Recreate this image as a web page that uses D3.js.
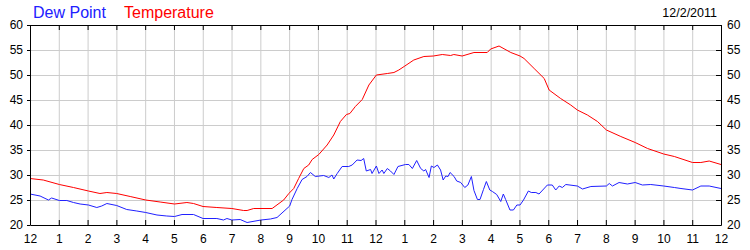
<!DOCTYPE html>
<html>
<head>
<meta charset="utf-8">
<script src="https://cdn.jsdelivr.net/npm/d3@7"></script>
<style>
  body { margin: 0; background: #fff; }
  svg { display: block; font-family: "Liberation Sans", Arial, sans-serif; }
</style>
</head>
<body>
<svg></svg>
<script>
var width = 750;
var height = 250;

// hours after midnight
var tempHours = [0, 0.46, 1.02, 1.51, 2.03, 2.43, 2.67, 3.01, 3.48, 4.02, 4.52, 5.02, 5.45, 5.68,
  6.01, 6.49, 7.01, 7.42, 7.54, 7.77, 8.41, 8.81, 8.99, 9.16, 9.33, 9.51, 9.68, 9.80, 10.03,
  10.32, 10.55, 10.78, 10.99, 11.11, 11.30, 11.54, 11.77, 12.03, 12.41, 12.64, 12.81, 13.02,
  13.33, 13.68, 14.01, 14.32, 14.61, 14.72, 15.01, 15.42, 15.88, 16.00, 16.29, 16.70, 17.02,
  17.16, 17.51, 17.86, 18.03, 18.43, 18.78, 19.01, 19.36, 19.71, 20.02, 20.52, 21.02, 21.45,
  22.01, 22.38, 23.01, 23.30, 23.59, 24.00];
var tempValues = [29.3, 29.0, 28.1, 27.5, 26.8, 26.3, 26.5, 26.3, 25.7, 25.0, 24.6, 24.2, 24.5, 24.3,
  23.7, 23.5, 23.3, 22.9, 22.9, 23.3, 23.3, 25.0, 26.3, 27.3, 29.3, 31.3, 32.0, 33.1, 34.1,
  36.0, 38.0, 40.7, 42.1, 42.3, 43.7, 45.1, 48.0, 50.0, 50.3, 50.5, 51.0, 51.8,
  53.0, 53.7, 53.8, 54.1, 53.9, 54.1, 53.8, 54.5, 54.5, 55.2, 55.8, 54.5, 53.8,
  53.3, 51.3, 49.3, 47.0, 45.3, 44.0, 43.0, 42.0, 40.7, 39.0, 37.7, 36.5, 35.3,
  34.2, 33.7, 32.5, 32.5, 32.8, 32.1];

var dewHours = [0, 0.35, 0.64, 0.75, 1.02, 1.28, 1.51, 1.74, 2.03, 2.32, 2.49, 2.67, 3.01, 3.36,
  3.71, 4.02, 4.41, 4.75, 5.02, 5.28, 5.68, 6.01, 6.49, 6.72, 6.84, 7.01, 7.30, 7.54, 8.02,
  8.35, 8.58, 9.02, 9.10, 9.28, 9.45, 9.62, 9.74, 9.91, 10.20, 10.38, 10.49, 10.55, 10.67,
  10.84, 11.07, 11.19, 11.36, 11.50, 11.59, 11.68, 11.83, 11.88, 12.03, 12.12, 12.23, 12.29,
  12.41, 12.52, 12.64, 12.78, 13.04, 13.16, 13.28, 13.43, 13.57, 13.68, 13.74, 13.86, 13.94,
  14.03, 14.15, 14.26, 14.35, 14.44, 14.52, 14.59, 14.73, 14.82, 14.96, 15.10, 15.21, 15.33,
  15.42, 15.54, 15.63, 15.75, 15.85, 15.97, 16.06, 16.21, 16.35, 16.44, 16.52, 16.67, 16.79,
  16.91, 17.02, 17.14, 17.31, 17.41, 17.57, 17.68, 17.97, 18.14, 18.26, 18.38, 18.49, 18.61,
  19.01, 19.19, 19.48, 20.02, 20.12, 20.23, 20.46, 20.75, 21.02, 21.27, 21.56, 22.01, 22.38,
  22.61, 23.01, 23.30, 23.59, 24.00];
var dewValues = [26.2, 25.8, 25.0, 25.4, 24.9, 24.9, 24.5, 24.2, 24.0, 23.5, 23.8, 24.3, 23.9, 23.1,
  22.8, 22.5, 22.0, 21.8, 21.7, 22.1, 22.1, 21.3, 21.3, 21.0, 21.3, 21.0, 21.1, 20.5, 21.0,
  21.2, 21.5, 23.8, 25.1, 27.3, 29.1, 29.7, 30.5, 29.7, 29.9, 29.5, 30.0, 29.2, 30.3,
  31.7, 31.7, 32.0, 33.0, 32.9, 33.3, 30.8, 31.1, 30.3, 31.8, 30.3, 31.0, 30.3,
  31.3, 30.8, 30.1, 31.7, 32.1, 32.1, 31.3, 32.9, 31.3, 30.8, 31.1, 29.5, 31.8,
  31.5, 32.0, 31.0, 29.0, 29.8, 29.7, 30.5, 29.7, 28.8, 28.5, 27.5, 28.0, 29.7,
  26.9, 25.1, 25.1, 27.1, 28.7, 27.0, 26.7, 26.1, 24.7, 26.2, 25.1, 23.0, 23.0,
  24.0, 24.0, 25.0, 26.8, 26.5, 26.5, 26.2, 28.0, 28.0, 27.0, 27.8, 27.5, 28.1,
  27.8, 27.2, 27.7, 27.8, 28.3, 27.8, 28.5, 28.2, 28.5, 28.0, 28.1, 27.8, 27.5,
  27.3, 27.0, 27.8, 27.8, 27.3];

var hourTicks = d3.range(0, 25);
var degreeTicks = [20, 25, 30, 35, 40, 45, 50, 55, 60];
var dateLabel = "12/2/2011";

var svg = d3.select("svg")
  .attr("width", width)
  .attr("height", height);

var x = d3.scaleLinear().domain([0, 24]).range([30, 721]);
var y = d3.scaleLinear().domain([20, 60]).range([225, 25]);

// grid
svg.append("g")
  .selectAll("line")
  .data(hourTicks.slice(1, -1))
  .enter().append("line")
    .attr("x1", function(d) { return x(d) + 0.5; })
    .attr("x2", function(d) { return x(d) + 0.5; })
    .attr("y1", y(60))
    .attr("y2", y(20))
    .style("stroke", "#cccccc");

svg.append("g")
  .selectAll("line")
  .data(degreeTicks.slice(1, -1))
  .enter().append("line")
    .attr("x1", x(0))
    .attr("x2", x(24))
    .attr("y1", function(d) { return y(d) + 0.5; })
    .attr("y2", function(d) { return y(d) + 0.5; })
    .style("stroke", "#cccccc");

// series
var line = d3.line()
  .x(function(d) { return x(d[0]); })
  .y(function(d) { return y(d[1]); });

svg.append("path")
  .datum(d3.zip(dewHours, dewValues))
  .attr("d", line)
  .style("fill", "none")
  .style("stroke", "#2020ff")
  .style("stroke-width", 1);

svg.append("path")
  .datum(d3.zip(tempHours, tempValues))
  .attr("d", line)
  .style("fill", "none")
  .style("stroke", "#ff0000")
  .style("stroke-width", 1);

// axes
var hourFormat = function(h) { return (h % 12) || 12; };

svg.append("g")
  .attr("transform", "translate(0," + y(20) + ")")
  .call(d3.axisBottom(x).tickValues(hourTicks).tickFormat(hourFormat)
    .tickSizeInner(-5).tickSizeOuter(0).tickPadding(9));

svg.append("g")
  .attr("transform", "translate(0," + y(60) + ")")
  .call(d3.axisTop(x).tickValues(hourTicks).tickFormat("")
    .tickSizeInner(-5).tickSizeOuter(0));

svg.append("g")
  .attr("transform", "translate(" + x(0) + ",0)")
  .call(d3.axisLeft(y).tickValues(degreeTicks)
    .tickSizeInner(3).tickSizeOuter(0).tickPadding(4));

svg.append("g")
  .attr("transform", "translate(" + x(24) + ",0)")
  .call(d3.axisRight(y).tickValues(degreeTicks)
    .tickSizeInner(-5).tickSizeOuter(0).tickPadding(6));

svg.selectAll(".tick text")
  .style("font-size", "12px")
  .style("font-family", "'Liberation Sans', Arial, sans-serif")
  .style("fill", "#000");
svg.selectAll(".domain, .tick line").style("stroke", "#000");

// legend + date
svg.append("text")
  .attr("x", 33).attr("y", 18)
  .style("font-size", "16px")
  .style("fill", "#2020ff")
  .text("Dew Point");

svg.append("text")
  .attr("x", 124).attr("y", 18)
  .style("font-size", "16px")
  .style("fill", "#ff0000")
  .text("Temperature");

svg.append("text")
  .attr("x", 717).attr("y", 17)
  .attr("text-anchor", "end")
  .style("font-size", "12.5px")
  .style("fill", "#000")
  .text(dateLabel);
</script>
</body>
</html>
